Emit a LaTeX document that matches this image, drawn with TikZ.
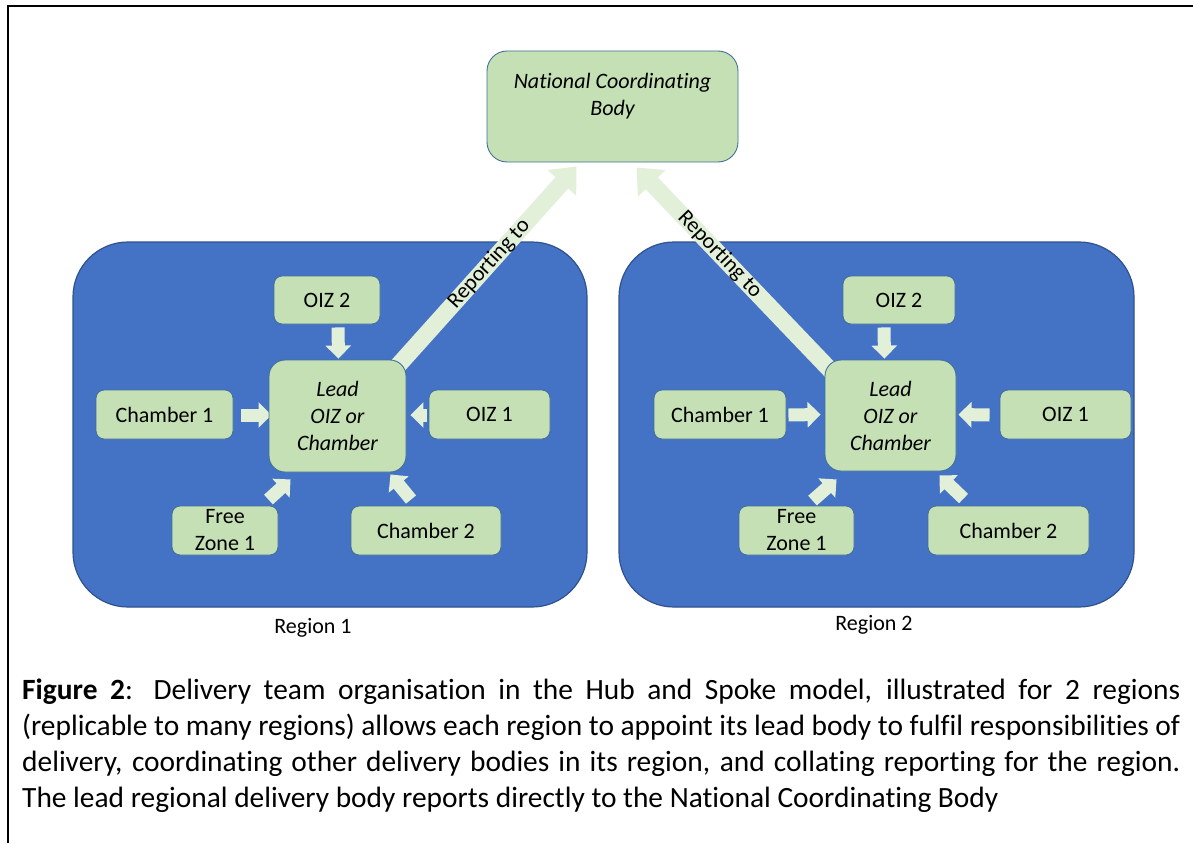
\documentclass[tikz,border=0pt]{standalone}
\usepackage{fontspec}
\setmainfont{Carlito}[Ligatures=NoCommon]
\usetikzlibrary{arrows.meta,calc}
\definecolor{regblue}{HTML}{4472C4}
\definecolor{regline}{HTML}{2F528F}
\definecolor{boxgreen}{HTML}{C5E0B4}
\definecolor{boxline}{HTML}{41719C}
\definecolor{arrgreen}{HTML}{E2F0D9}
\pgfdeclarelayer{back}
\pgfdeclarelayer{mid}
\pgfsetlayers{back,mid,main}
\begin{document}
\begin{tikzpicture}[x=1pt,y=-1pt,
  region/.style={draw=regline, line width=1.2pt, fill=regblue, rounded corners=55pt},
  gbox/.style={draw=boxline, line width=0.9pt, fill=boxgreen, rounded corners=8pt, inner sep=0pt, align=center, font=\fontsize{22}{27}\selectfont},
  leadbox/.style={gbox, rounded corners=16pt, font=\fontsize{22}{27}\selectfont\itshape},
  sarrow/.style={color=arrgreen, line width=13pt, -{Triangle[length=13pt,width=25pt]}},
  rarrow/.style={color=arrgreen, line width=17pt, -{Triangle[length=22pt,width=37pt]}},
  lbl/.style={font=\fontsize{22}{27}\selectfont, inner sep=0pt, text=black},
  captext/.style={font=\fontsize{29.4}{36}\selectfont, inner sep=0pt, anchor=base west},
]
\useasboundingbox (0,0) rectangle (1193,843);

% background and regions
\begin{pgfonlayer}{back}
\fill[white] (0,0) rectangle (1193,843);
\draw[region] (73,242) rectangle (587,607);
\draw[region] (619,242) rectangle (1134,607);
\end{pgfonlayer}
\draw[line width=2.2pt, line join=miter] (8,843) -- (8,6) -- (1193,6);

% national body
\node[gbox, rounded corners=20pt, minimum width=251pt, minimum height=111pt] (ncb) at (612.5,106.5) {};
\node[lbl, align=center, font=\fontsize{22}{27}\selectfont\itshape] (ncbtext) at (612.5,96.5) {National Coordinating\\Body};

% region 1
\node[leadbox, minimum width=137pt, minimum height=112pt] (lead1) at (337.5,416) {Lead\\OIZ or\\Chamber};
\node[gbox, minimum width=106pt, minimum height=48pt] (oiza1) at (327,300) {OIZ 2};
\node[gbox, minimum width=137pt, minimum height=49pt] (cha1) at (164.5,414.5) {Chamber 1};
\node[gbox, minimum width=121pt, minimum height=49pt] (oizb1) at (489.5,414.5) {OIZ 1};
\node[gbox, minimum width=106pt, minimum height=49pt] (fz1) at (225,530.5) {Free\\Zone 1};
\node[gbox, minimum width=150pt, minimum height=49pt] (chb1) at (426,530.5) {Chamber 2};

% region 2
\node[leadbox, minimum width=131pt, minimum height=111pt] (lead2) at (890.5,415.5) {Lead\\OIZ or\\Chamber};
\node[gbox, minimum width=112pt, minimum height=48pt] (oiza2) at (899,300) {OIZ 2};
\node[gbox, minimum width=132pt, minimum height=49pt] (cha2) at (720,414.5) {Chamber 1};
\node[gbox, minimum width=131pt, minimum height=49pt] (oizb2) at (1065.5,414.5) {OIZ 1};
\node[gbox, minimum width=115pt, minimum height=49pt] (fz2) at (796.5,530.5) {Free\\Zone 1};
\node[gbox, minimum width=161pt, minimum height=49pt] (chb2) at (1008.5,530.5) {Chamber 2};

% arrows
\begin{pgfonlayer}{mid}
\draw[sarrow] ($(oiza1.south)+(11,3)$) -- ($(lead1.north)+(1,-1)$);
\draw[sarrow] ($(cha1.east)+(8,0.5)$) -- ($(lead1.west)+(3,-1)$);
\draw[sarrow] ($(oizb1.west)+(-2,0.5)$) -- ($(lead1.east)+(4,-1)$);
\draw[sarrow] ($(fz1.north east)+(-10,-6)$) -- ($(lead1.south west)+(22,7)$);
\draw[sarrow] ($(chb1.north)+(-15,-6)$) -- ($(lead1.south east)+(-16,2)$);
\draw[rarrow] ($(lead1.north east)+(-12,10)$) -- ($(ncb.south west)+(90,4)$)
  node[lbl, pos=0.52, sloped] (rep1) {Reporting to};

\draw[sarrow] ($(oiza2.south)+(-15,3)$) -- ($(lead2.north)+(-6,-1)$);
\draw[sarrow] ($(cha2.east)+(2,0.5)$) -- ($(lead2.west)+(-4,-1)$);
\draw[sarrow] ($(oizb2.west)+(-10,0.5)$) -- ($(lead2.east)+(2,-1)$);
\draw[sarrow] ($(fz2.north)+(16,-5)$) -- ($(lead2.south west)+(12,8)$);
\draw[sarrow] ($(chb2.north west)+(36,-7)$) -- ($(lead2.south east)+(-17,4)$);
\draw[rarrow] ($(lead2.north west)+(10,15)$) -- ($(ncb.south west)+(150,5)$)
  node[lbl, pos=0.58, sloped] (rep2) {Reporting to};
\end{pgfonlayer}

% region labels
\node[lbl, anchor=base] (reg1) at (313,633) {Region 1};
\node[lbl, anchor=base] (reg2) at (874,630) {Region 2};

% caption
\node[captext] (c1) at (22,699) {\makebox[1158pt][s]{\textbf{Figure 2}: Delivery team organisation in the Hub and Spoke model, illustrated for 2 regions}};
\node[captext] (c2) at (22,735) {\makebox[1158pt][s]{(replicable to many regions) allows each region to appoint its lead body to fulfil responsibilities of}};
\node[captext] (c3) at (22,771) {\makebox[1158pt][s]{delivery, coordinating other delivery bodies in its region, and collating reporting for the region.}};
\node[captext] (c4) at (22,807) {The lead regional delivery body reports directly to the National Coordinating Body};
\end{tikzpicture}
\end{document}
